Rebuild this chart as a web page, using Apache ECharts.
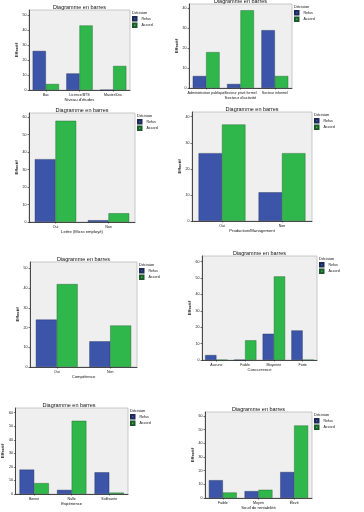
<!DOCTYPE html>
<html><head><meta charset="utf-8">
<script src="https://cdn.jsdelivr.net/npm/echarts@6/dist/echarts.min.js"></script>
<style>html,body{margin:0;padding:0;background:#fff}#c{width:364px;height:512px}</style>
</head><body><div id="c"></div>
<script>
// ---- data ----
const seriesNames = ['Refus', 'Accord'];
const legendTitle = 'Décision';
const chartTitle = 'Diagramme en barres';
const yName = 'Effectif';

const cats1 = ['Bac', 'Licence/BTS', 'Master/Doc'];
const refus1 = [26, 11, 0];
const accord1 = [4, 43, 16];
const ticks1 = [0, 10, 20, 30, 40, 50];
const xName1 = "Niveau d'études";

const cats2 = ['Administration publique', 'Secteur privé formel', 'Secteur informel'];
const refus2 = [6, 2, 29];
const accord2 = [18, 39, 6];
const ticks2 = [0, 10, 20, 30, 40];
const xName2 = "Secteur d'activité";

const cats3 = ['Oui', 'Non'];
const refus3 = [36, 1];
const accord3 = [58, 5];
const ticks3 = [0, 10, 20, 30, 40, 50, 60];
const xName3 = 'Lettre (Micro employé)';

const cats4 = ['Oui', 'Non'];
const refus4 = [26, 11];
const accord4 = [37, 26];
const ticks4 = [0, 10, 20, 30, 40];
const xName4 = 'Production/Management';

const cats5 = ['Oui', 'Non'];
const refus5 = [24, 13];
const accord5 = [42, 21];
const ticks5 = [0, 10, 20, 30, 40, 50];
const xName5 = 'Compétence';

const cats6 = ['Aucune', 'Faible', 'Moyenne', 'Forte'];
const refus6 = [3, 0, 16, 18];
const accord6 = [0, 12, 51, 0];
const ticks6 = [0, 10, 20, 30, 40, 50, 60];
const xName6 = 'Concurrence';

const cats7 = ['Bonne', 'Nulle', 'Suffisante'];
const refus7 = [18, 3, 16];
const accord7 = [8, 54, 1];
const ticks7 = [0, 10, 20, 30, 40, 50, 60];
const xName7 = 'Expérience';

const cats8 = ['Faible', 'Moyen', 'Élevé'];
const refus8 = [13, 5, 19];
const accord8 = [4, 6, 53];
const ticks8 = [0, 10, 20, 30, 40, 50, 60];
const xName8 = 'Seuil de rentabilité';

const panels = [
  {cats: cats1, r: refus1, a: accord1, ticks: ticks1, xName: xName1},
  {cats: cats2, r: refus2, a: accord2, ticks: ticks2, xName: xName2},
  {cats: cats3, r: refus3, a: accord3, ticks: ticks3, xName: xName3},
  {cats: cats4, r: refus4, a: accord4, ticks: ticks4, xName: xName4},
  {cats: cats5, r: refus5, a: accord5, ticks: ticks5, xName: xName5},
  {cats: cats6, r: refus6, a: accord6, ticks: ticks6, xName: xName6},
  {cats: cats7, r: refus7, a: accord7, ticks: ticks7, xName: xName7},
  {cats: cats8, r: refus8, a: accord8, ticks: ticks8, xName: xName8}
];

// ---- layout (positions / styles) ----
const layout = [
  {left: 29, top: 10, w: 101, h: 80, pad: 1.066},
  {left: 189, top: 4, w: 103, h: 84, pad: 1.054},
  {left: 29, top: 113, w: 106, h: 109, pad: 1.041},
  {left: 192, top: 112, w: 120, h: 109, pad: 1.045},
  {left: 30, top: 262, w: 107, h: 105, pad: 1.064},
  {left: 202, top: 256, w: 115, h: 104, pad: 1.058},
  {left: 10, top: 408, w: 118, h: 86, pad: 1.058},
  {left: 205, top: 412, w: 107, h: 86, pad: 1.048}
];
const BLUE = '#3c55a9';
const GREEN = '#2fb74b';
const FONT = 'Liberation Sans, Arial, sans-serif';

const option = {
  animation: false,
  textStyle: {fontFamily: FONT},
  title: [], legend: [], grid: [], xAxis: [], yAxis: [], series: []
};

panels.forEach((p, i) => {
  const L = layout[i];
  const maxTick = p.ticks[p.ticks.length - 1];
  option.grid.push({
    left: L.left, top: L.top, width: L.w, height: L.h,
    show: true, backgroundColor: '#efefef', borderColor: '#bdbdbd', borderWidth: 0.8,
    containLabel: false
  });
  option.title.push({
    text: chartTitle, left: L.left + L.w / 2, top: L.top - 6, textAlign: 'center', padding: 0,
    textStyle: {fontSize: 5.5, fontWeight: 'normal', color: '#111', fontFamily: FONT}
  });
  option.title.push({
    text: legendTitle, left: L.left + L.w + 2, top: L.top + 1, padding: 0,
    textStyle: {fontSize: 4, fontWeight: 'normal', color: '#111', fontFamily: FONT}
  });
  option.legend.push({
    data: seriesNames, orient: 'vertical', left: L.left + L.w + 2, top: L.top + 6,
    itemWidth: 3.5, itemHeight: 3.5, itemGap: 1, padding: 0, selectedMode: false,
    icon: 'rect',
    textStyle: {fontSize: 3.6, color: '#111', fontFamily: FONT}
  });
  option.xAxis.push({
    type: 'category', gridIndex: i, data: p.cats,
    name: p.xName, nameLocation: 'middle', nameGap: 8,
    nameTextStyle: {fontSize: 4.2, color: '#111', fontFamily: FONT},
    axisLine: {lineStyle: {color: '#222', width: 0.8}},
    axisTick: {show: true, alignWithLabel: true, length: 1.5, lineStyle: {color: '#222', width: 0.6}},
    axisLabel: {fontSize: 3.6, color: '#111', margin: 2.5, interval: 0, fontFamily: FONT}
  });
  option.yAxis.push({
    type: 'value', gridIndex: i, min: 0, max: maxTick * L.pad, interval: p.ticks[1] - p.ticks[0],
    name: yName, nameLocation: 'middle', nameGap: 8, nameRotate: 90,
    nameTextStyle: {fontSize: 4.2, color: '#111', fontWeight: 'bold', fontFamily: FONT},
    axisLine: {show: true, lineStyle: {color: '#222', width: 0.8}},
    axisTick: {show: true, length: 1.5, lineStyle: {color: '#222', width: 0.6}, customValues: p.ticks},
    axisLabel: {fontSize: 3.6, color: '#111', margin: 2.5, customValues: p.ticks, fontFamily: FONT},
    splitLine: {show: false}
  });
  option.series.push({
    type: 'bar', name: seriesNames[0], xAxisIndex: i, yAxisIndex: i, data: p.r,
    barGap: '0%', barCategoryGap: '22%',
    itemStyle: {color: BLUE, borderColor: '#1d2a55', borderWidth: 0.4}
  });
  option.series.push({
    type: 'bar', name: seriesNames[1], xAxisIndex: i, yAxisIndex: i, data: p.a,
    barGap: '0%', barCategoryGap: '22%',
    itemStyle: {color: GREEN, borderColor: '#1e5a2a', borderWidth: 0.4}
  });
});

const chart = echarts.init(document.getElementById('c'), null, {renderer: 'canvas'});
chart.setOption(option);
</script>
</body></html>
